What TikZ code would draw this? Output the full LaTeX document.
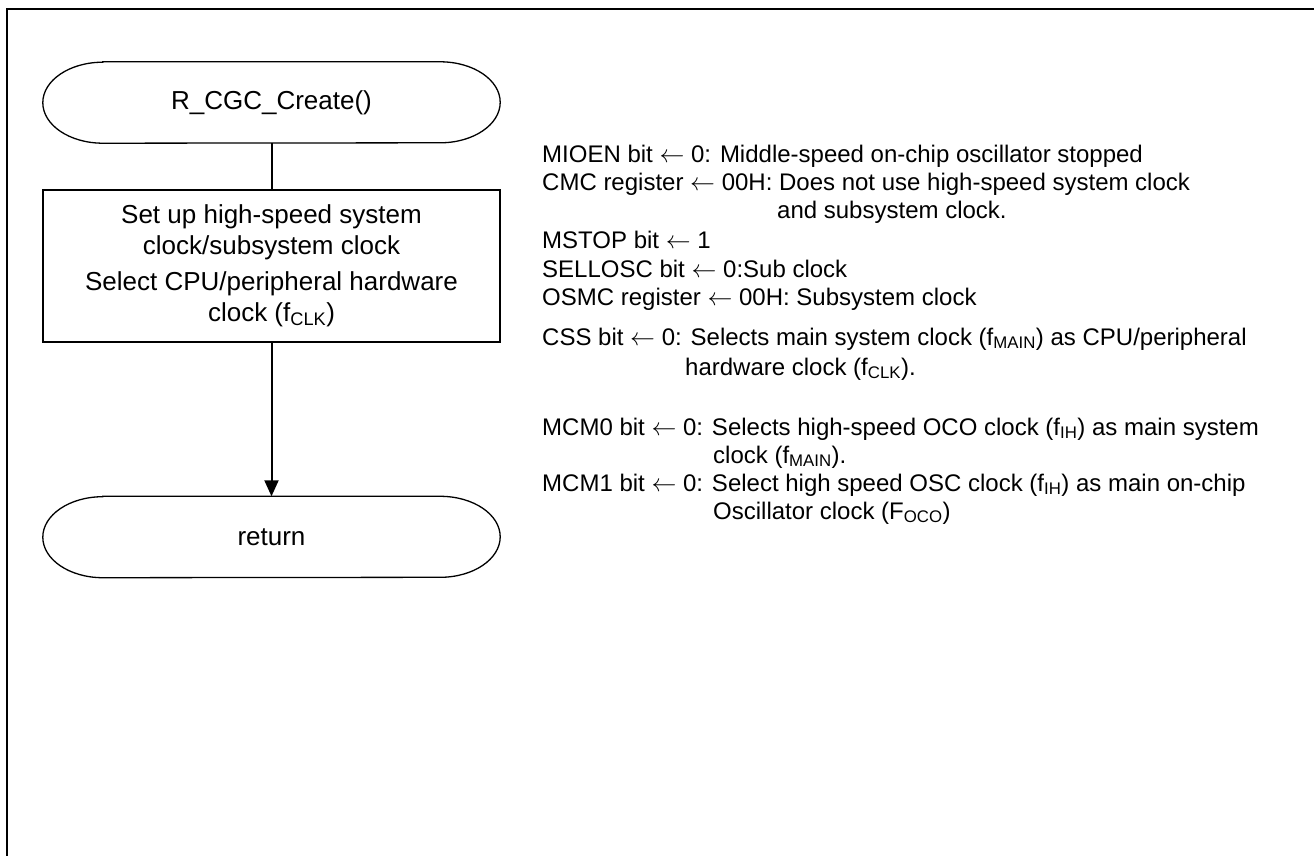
\documentclass[tikz,border=0pt]{standalone}
\usepackage{fontspec}
\setmainfont{Liberation Sans}
\usetikzlibrary{arrows.meta,positioning}

% outline of a start/end symbol round a node
\newcommand{\termedge}[1]{%
  \draw[line width=1.3pt] ([xshift=60pt]#1.north west) -- ([xshift=-60pt]#1.north east)
    arc[start angle=90,end angle=-90,x radius=60pt,y radius=40.5pt]
    -- ([xshift=60pt]#1.south west)
    arc[start angle=270,end angle=90,x radius=60pt,y radius=40.5pt] -- cycle;}
\newcommand{\setto}{$\leftarrow$}

\begin{document}
\begin{tikzpicture}[x=1pt,y=-1pt,on grid,font=\fontsize{24}{28}\selectfont]
       \tikzstyle{term}=[minimum width=457pt,minimum height=81pt,inner sep=0pt,font=\fontsize{26}{31}\selectfont]
       \tikzstyle{proc}=[draw,line width=2pt,minimum width=457pt,minimum height=152pt,align=center,font=\fontsize{26}{31}\selectfont]
       \tikzstyle{note}=[anchor=base west,inner sep=0pt]
       \tikzstyle{flow}=[line width=2pt]

       \path[use as bounding box] (0,0) rectangle (1314,856);
       \draw[line width=2pt] (7,862) |- (1320,9);

       \node[term] (start) at (271.5,102.5) {R\_CGC\_Create()};
       \termedge{start}
       \node[proc] (setup) [below=163.5pt of start]
         {Set up high-speed system\\clock/subsystem clock\\[5pt]Select CPU/peripheral hardware\\clock (f\textsubscript{CLK})};
       \node[term] (ret) [below=271pt of setup] {return};
       \termedge{ret}

       \draw[flow] (start) -- (setup);
       \draw[flow,-{Triangle[length=16pt,width=14pt]}] (setup) -- (ret);

       % register settings
       \node[note] (mioen) at (542,162) {MIOEN bit \setto{} 0: Middle-speed on-chip oscillator stopped};
       \node[note] (cmc) at (542,190) {CMC register \setto{} 00H: Does not use high-speed system clock};
       \node[note] (cmc2) at (777,218) {and subsystem clock.};
       \node[note] (mstop) at (542,248) {MSTOP bit \setto{} 1};
       \node[note] (sellosc) at (542,277) {SELLOSC bit \setto{} 0:Sub clock};
       \node[note] (osmc) at (542,305) {OSMC register \setto{} 00H: Subsystem clock};
       \node[note] (css) at (542,345) {CSS bit \setto{} 0: Selects main system clock (f\textsubscript{MAIN}) as CPU/peripheral};
       \node[note] (css2) at (685,375) {hardware clock (f\textsubscript{CLK}).};
       \node[note] (mcm0) at (542,435) {MCM0 bit \setto{} 0: Selects high-speed OCO clock (f\textsubscript{IH}) as main system};
       \node[note] (mcm02) at (713,463) {clock (f\textsubscript{MAIN}).};
       \node[note] (mcm1) at (542,491) {MCM1 bit \setto{} 0: Select high speed OSC clock (f\textsubscript{IH}) as main on-chip};
       \node[note] (mcm12) at (713,519) {Oscillator clock (F\textsubscript{OCO})};

     \end{tikzpicture}
\end{document}
